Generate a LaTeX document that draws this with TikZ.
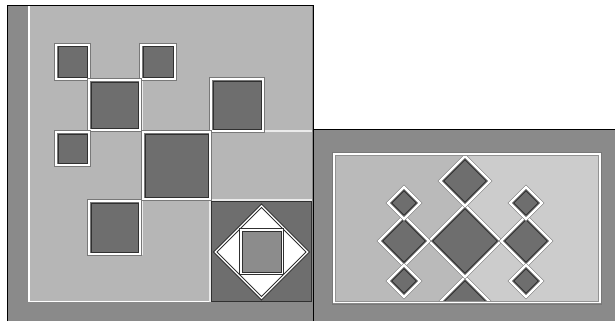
\documentclass[tikz,border=0pt]{standalone}
\definecolor{outertex}{RGB}{138,138,138}
\definecolor{lightbg}{RGB}{182,182,182}
\definecolor{leftbg}{RGB}{186,186,186}
\definecolor{flatbg}{RGB}{204,204,204}
\definecolor{sqfill}{RGB}{110,110,110}
\definecolor{sqedge}{RGB}{48,48,48}
\definecolor{midfill}{RGB}{140,140,140}
\definecolor{gridln}{RGB}{235,235,235}
\definecolor{frameedge}{RGB}{120,120,120}
\tikzset{
  wframe/.style={draw=white, line width=2.2pt},
  wedge/.style={draw=frameedge, line width=3.4pt},
  dsq/.style={fill=sqfill, draw=sqedge, line width=1pt},
  gridline/.style={draw=gridln, line width=1.4pt},
}
\newcommand\tile[4]{%
  \draw[wedge] ({#1+1},{#2+1}) rectangle ({#3-1},{#4-1});
  \draw[wframe] ({#1+1},{#2+1}) rectangle ({#3-1},{#4-1});
  \draw[dsq] ({#1+3},{#2+3}) rectangle ({#3-3},{#4-3});
}
\newcommand\dmdpath[3]{({#1},{#2-(#3)}) -- ({#1+(#3)},{#2}) -- ({#1},{#2+(#3)}) -- ({#1-(#3)},{#2}) -- cycle}
\newcommand\dmd[3]{%
  \draw[wedge] \dmdpath{#1}{#2}{#3};
  \draw[wframe] \dmdpath{#1}{#2}{#3};
  \draw[dsq] \dmdpath{#1}{#2}{#3-3.6};
}
\begin{document}
\begin{tikzpicture}[x=1pt,y=-1pt]
\useasboundingbox (0,0) rectangle (615,321);
\fill[white] (0,0) rectangle (615,321);
% ---------- left panel ----------
\fill[outertex] (7,6) rectangle (313,321);
\fill[lightbg] (28,6) rectangle (312,302);
\draw[white, line width=1.2pt] (29,6) -- (29,301.5) -- (312,301.5);
% grid lines
\draw[gridline] (55,131) -- (312,131);
\draw[gridline] (88,200) -- (312,200);
\draw[gridline] (142,79) -- (142,255);
\draw[gridline] (210,78) -- (210,302);
\draw[gridline] (88,79) -- (176,79);
% tiles
\tile{55}{44}{90}{80}
\tile{140}{44}{176}{80}
\tile{88}{79}{141}{131}
\tile{210}{78}{264}{132}
\tile{55}{131}{90}{166}
\tile{142}{131}{211}{200}
\tile{88}{200}{141}{255}
% bottom-right block
\fill[sqfill] (211,201) rectangle (312,302);
\draw[sqedge, line width=1pt] (211.5,201.5) rectangle (311.5,301.5);
\draw[sqedge, fill=white, line width=0.8pt] \dmdpath{261.5}{252}{48};
\draw[sqedge, line width=0.8pt] \dmdpath{261.5}{252}{44.5};
\draw[sqedge, fill=white, line width=0.8pt] (239.5,228.5) rectangle (283.5,274.5);
\draw[sqedge, fill=midfill, line width=1pt] (242.5,231.5) rectangle (281,272);
% borders
\draw[black, line width=1pt] (7,321) -- (7,6) -- (313,6) -- (313,321);
% ---------- right panel ----------
\fill[outertex] (313.5,129.5) rectangle (615,321);
\draw[black, line width=1pt] (313,129) -- (615,129);
\fill[leftbg] (335,155) rectangle (463,302);
\fill[flatbg] (463,155) rectangle (599,302);
\begin{scope}
  \clip (335,155) rectangle (599,302);
  \dmd{465}{313}{36}
  \dmd{465}{241}{36}
  \dmd{465}{181}{25}
  \dmd{404}{241}{25}
  \dmd{526}{241}{25}
  \dmd{404}{203}{16}
  \dmd{526}{203}{16}
  \dmd{404}{281}{16}
  \dmd{526}{281}{16}
\end{scope}
\draw[frameedge, line width=1pt] (332.5,152.5) rectangle (601.5,304);
\draw[white, line width=1.5pt] (334,154) rectangle (600,302.5);
\draw[frameedge!80, line width=1pt] (335.5,155.5) rectangle (598.5,301);
\end{tikzpicture}
\end{document}
